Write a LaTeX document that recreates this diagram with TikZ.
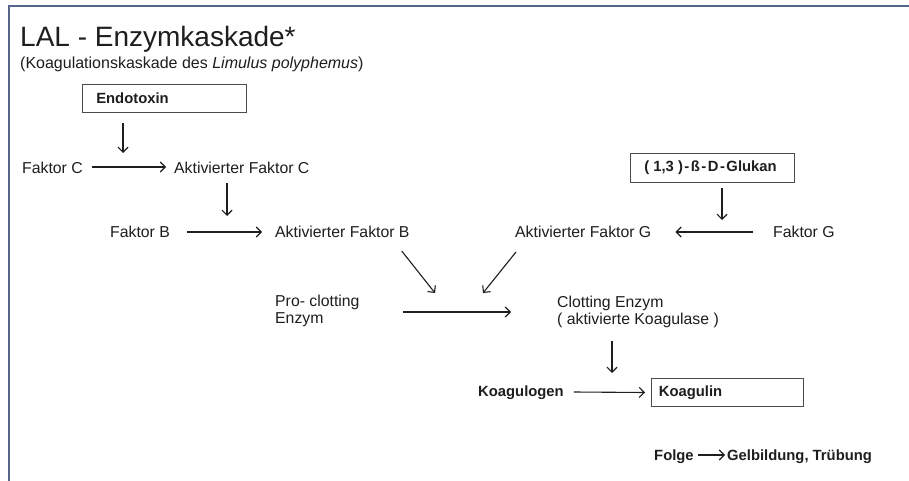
\documentclass[tikz,border=0pt]{standalone}
\usepackage{fontspec}
\setmainfont{Liberation Sans}
\usetikzlibrary{calc,arrows.meta}
\definecolor{framec}{HTML}{556688}
\definecolor{ink}{HTML}{1E1E1E}
\begin{document}
\begin{tikzpicture}[x=1pt,y=-1pt,
  txt/.style={inner sep=0pt, anchor=base west, text=ink, font=\fontsize{15.8}{17}\selectfont, align=left},
  btxt/.style={txt, font=\fontsize{14.8}{17}\selectfont\bfseries},
  boxed/.style={draw=ink!80, line width=1pt, anchor=north west, inner ysep=0pt, inner xsep=0pt,
    text=ink, font=\fontsize{14.8}{17}\selectfont\bfseries, align=left},
  arr/.style={draw=ink, line width=1.1pt, -{Straight Barb[length=5pt,width=10pt,line width=1.1pt]}}
]
\useasboundingbox (0,0) rectangle (909,481);
\fill[white] (0,0) rectangle (909,481);
% frame
\draw[framec, line width=2.6pt] (9,481) -- (9,6) -- (909,6);

\node[txt, font=\fontsize{28}{30}\selectfont] (title) at (20,47) {LAL - Enzymkaskade*};
\node[txt, font=\fontsize{16}{18}\selectfont] (sub) at (20,69) {(Koagulationskaskade des \textit{Limulus polyphemus})};

\node[boxed, minimum width=164pt, minimum height=28pt] (endo) at (82,84) {\hspace*{10pt}Endotoxin\hspace*{74pt}};
\node[boxed, minimum width=164pt, minimum height=29pt] (glu) at (630,153) {\hspace*{8pt}( 1,3 )\kern1.5pt-\kern1.5ptß\kern1.5pt-\kern1.5ptD\kern1.5pt-\kern1.5ptGlukan\hspace*{12pt}};
\node[boxed, minimum width=152pt, minimum height=28pt] (koagulin) at (651,378) {\hspace*{6pt}Koagulin\hspace*{80pt}};

\node[txt] (fc) at (22,173) {Faktor C};
\node[txt] (afc) at (174,173) {Aktivierter Faktor C};
\node[txt] (fb) at (110,237) {Faktor B};
\node[txt] (afb) at (275,237) {Aktivierter Faktor B};
\node[txt] (afg) at (515,237) {Aktivierter Faktor G};
\node[txt] (fg) at (773,237) {Faktor G};
\node[txt] (pro) at (275,323) {Pro- clotting\\Enzym};
\node[txt] (clot) at (557,324) {Clotting Enzym\\( aktivierte Koagulase )};
\node[btxt] (kgen) at (478,396) {Koagulogen};
\node[btxt] (folge) at (654,460) {Folge};
\node[btxt] (gel) at (727,460) {Gelbildung, Trübung};

\coordinate (c1) at (123,153);
\coordinate (c2) at (227,216);
\coordinate (c3) at (722,220);
\coordinate (c4) at (435,293);
\coordinate (c5) at (483,293);
\coordinate (c6) at (612,373);

% arrows
\draw[arr] ($(endo.south west)+(41,10)$) -- (c1);
\draw[arr] ($(fc.base east)+(9,-6)$) -- ($(afc.base west)+(-8,-6)$);
\draw[arr] ($(afc.base west)+(53,10)$) -- (c2);
\draw[arr] ($(fb.base east)+(17,-5)$) -- ($(afb.base west)+(-13,-5)$);
\draw[arr] ($(glu.south west)+(92,5)$) -- (c3);
\draw[arr] ($(fg.base west)+(-20,-5)$) -- ($(afg.base east)+(24,-5)$);
\draw[arr] ($(afb.base east)+(-8,14)$) -- (c4);
\draw[arr] ($(afg.base west)+(1,15)$) -- (c5);
\draw[arr] ($(pro.base west)+(128,-11)$) -- ($(clot.base west)+(-46,-12)$);
\draw[arr] ($(clot.base west)+(55,17)$) -- (c6);
\draw[arr] ($(kgen.base east)+(10,-4)$) -- ($(koagulin.west)+(-6,0)$);
\draw[arr] ($(folge.base east)+(4,-5)$) -- ($(gel.base west)+(-2,-5)$);
\end{tikzpicture}
\end{document}
